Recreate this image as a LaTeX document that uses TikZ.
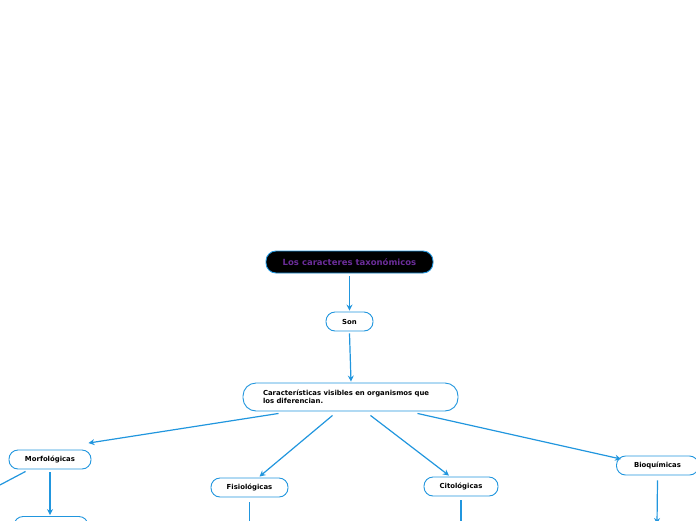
\documentclass[tikz,border=0pt]{standalone}
\usepackage{fontspec}
\setmainfont{DejaVu Sans}
\usetikzlibrary{calc,arrows.meta}
\definecolor{mapblue}{HTML}{2196DE}
\definecolor{mappurple}{HTML}{6B2D9A}
\begin{document}
\begin{tikzpicture}[x=1pt,y=-1pt,
    topic/.style={draw=mapblue, line width=0.9pt, rounded corners=9pt, fill=white, inner sep=0pt, font=\bfseries\fontsize{6.9}{7.6}\selectfont},
    link/.style={draw=mapblue, line width=1.2pt, -{Stealth[length=6pt,width=6pt]}},
    plain/.style={draw=mapblue, line width=1.2pt}]
    \useasboundingbox (0,0) rectangle (696,520);
    \clip (0,0) rectangle (696,520);
    \node[topic, fill=black, text=mappurple, minimum width=167pt, minimum height=22pt, rounded corners=10pt, font=\bfseries\fontsize{8.5}{10}\selectfont] (title) at (349.5,262) {Los caracteres taxonómicos};
    \node[topic, minimum width=47pt, minimum height=19pt] (son) at (349.5,321.5) {Son};
    \node[topic, minimum width=215pt, minimum height=28pt, rounded corners=13pt, align=left, text width=175pt] (car) at (350.5,397) {Características visibles en organismos que\\los diferencian.};
    \node[topic, minimum width=82pt, minimum height=19pt] (mor) at (50,459.5) {Morfológicas};
    \node[topic, minimum width=77pt, minimum height=19pt] (fis) at (249.5,487.5) {Fisiológicas};
    \node[topic, minimum width=74pt, minimum height=19pt] (cit) at (461,486.5) {Citológicas};
    \node[topic, minimum width=82pt, minimum height=19pt] (bio) at (657.5,465.5) {Bioquímicas};
    \node[topic, minimum width=74pt, minimum height=19pt] (mor2) at (51,526) {};
    \coordinate (morx) at (-2,486);
    \coordinate (fisx) at (249.5,524);
    \coordinate (citx) at (461,524);
    \coordinate (biox) at (657,524);
    % links
    \draw[link] ($(title.south)+(0,3)$) -- ($(son.north)+(0,-1)$);
    \draw[link] ($(son.south)+(0,2)$) -- ($(car.north)+(0.5,-1)$);
    \draw[link] ($(car.south)+(-72,2)$) -- ($(mor.north east)+(-3,-6.5)$);
    \draw[link] ($(car.south)+(-18,4)$) -- ($(fis.north)+(10,-1)$);
    \draw[link] ($(car.south)+(20,4)$) -- ($(cit.north)+(-12,-1)$);
    \draw[link] ($(car.south)+(67,2)$) -- ($(bio.north west)+(5,3.5)$);
    \draw[link] ($(mor.south)+(0,3)$) -- ($(mor2.north)+(-1,-1)$);
    \draw[plain] ($(mor.south west)+(17,2)$) -- (morx);
    \draw[plain] ($(fis.south)+(0,5)$) -- (fisx);
    \draw[plain] ($(cit.south)+(0,4)$) -- (citx);
    \draw[link] ($(bio.south)+(0,5)$) -- (biox);
\end{tikzpicture}
\end{document}
